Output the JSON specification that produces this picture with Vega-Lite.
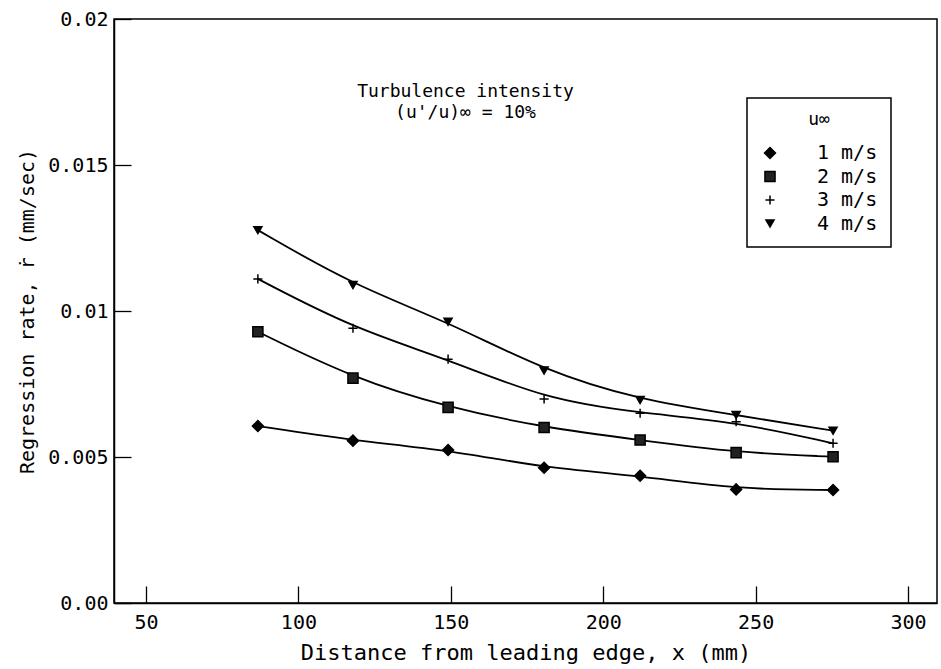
{
  "$schema": "https://vega.github.io/schema/vega-lite/v6.json",
  "width": 823,
  "height": 584,
  "autosize": "none",
  "padding": {"left": 114, "top": 19, "right": 4, "bottom": 66},
  "background": "white",
  "title": {
    "text": ["Turbulence intensity", "(u'/u)∞ = 10%"],
    "anchor": "middle",
    "orient": "top",
    "offset": 0,
    "dx": -60,
    "dy": 113,
    "baseline": "top",
    "font": "DejaVu Sans Mono",
    "fontSize": 18,
    "fontWeight": "normal",
    "color": "black",
    "lineHeight": 21
  },
  "config": {
    "view": {"stroke": "black", "strokeWidth": 1.5},
    "font": "DejaVu Sans Mono",
    "axis": {
      "grid": false,
      "domainColor": "black",
      "domainWidth": 1.5,
      "tickColor": "black",
      "tickWidth": 1.3,
      "tickSize": -17,
      "labelColor": "black",
      "titleColor": "black",
      "labelFont": "DejaVu Sans Mono",
      "titleFont": "DejaVu Sans Mono",
      "labelFontSize": 20,
      "titleFontSize": 20,
      "titleFontWeight": "normal"
    },
    "legend": {
      "orient": "none",
      "legendX": 633,
      "legendY": 79,
      "strokeColor": "black",
      "strokeWidth": 1.5,
      "padding": 13,
      "titleFont": "DejaVu Sans Mono",
      "titleFontSize": 18,
      "titleFontWeight": "normal",
      "titleColor": "black",
      "titleAnchor": "middle",
      "titlePadding": 14,
      "labelFont": "DejaVu Sans Mono",
      "labelFontSize": 20,
      "labelColor": "black",
      "labelOffset": 37,
      "rowPadding": 3.5,
      "symbolSize": 100,
      "symbolStrokeWidth": 1.5
    }
  },
  "data": {
    "values": [
      {"x": 86.7, "rate": 0.00606, "speed": "1 m/s"},
      {"x": 117.9, "rate": 0.00556, "speed": "1 m/s"},
      {"x": 149.1, "rate": 0.00524, "speed": "1 m/s"},
      {"x": 180.6, "rate": 0.00463, "speed": "1 m/s"},
      {"x": 212.1, "rate": 0.00436, "speed": "1 m/s"},
      {"x": 243.6, "rate": 0.00389, "speed": "1 m/s"},
      {"x": 275.4, "rate": 0.00387, "speed": "1 m/s"},
      {"x": 86.7, "rate": 0.00929, "speed": "2 m/s"},
      {"x": 117.9, "rate": 0.0077, "speed": "2 m/s"},
      {"x": 149.1, "rate": 0.0067, "speed": "2 m/s"},
      {"x": 180.6, "rate": 0.00601, "speed": "2 m/s"},
      {"x": 212.1, "rate": 0.00558, "speed": "2 m/s"},
      {"x": 243.6, "rate": 0.00515, "speed": "2 m/s"},
      {"x": 275.4, "rate": 0.00501, "speed": "2 m/s"},
      {"x": 86.7, "rate": 0.0111, "speed": "3 m/s"},
      {"x": 117.9, "rate": 0.00941, "speed": "3 m/s"},
      {"x": 149.1, "rate": 0.00835, "speed": "3 m/s"},
      {"x": 180.6, "rate": 0.00699, "speed": "3 m/s"},
      {"x": 212.1, "rate": 0.0065, "speed": "3 m/s"},
      {"x": 243.6, "rate": 0.00621, "speed": "3 m/s"},
      {"x": 275.4, "rate": 0.00547, "speed": "3 m/s"},
      {"x": 86.7, "rate": 0.01277, "speed": "4 m/s"},
      {"x": 117.9, "rate": 0.01089, "speed": "4 m/s"},
      {"x": 149.1, "rate": 0.00963, "speed": "4 m/s"},
      {"x": 180.6, "rate": 0.00796, "speed": "4 m/s"},
      {"x": 212.1, "rate": 0.00695, "speed": "4 m/s"},
      {"x": 243.6, "rate": 0.00644, "speed": "4 m/s"},
      {"x": 275.4, "rate": 0.0059, "speed": "4 m/s"}
    ]
  },
  "encoding": {
    "x": {
      "field": "x",
      "type": "quantitative",
      "scale": {"domain": [39.5, 309.5], "nice": false, "zero": false},
      "axis": {
        "values": [50, 100, 150, 200, 250, 300],
        "labelPadding": 26,
        "title": "Distance from leading edge, x (mm)",
        "titleFontSize": 22,
        "titlePadding": 10
      }
    },
    "y": {
      "field": "rate",
      "type": "quantitative",
      "scale": {"domain": [0, 0.02], "nice": false},
      "axis": {
        "values": [0, 0.005, 0.01, 0.015, 0.02],
        "labelExpr": "datum.value === 0 ? '0.00' : format(datum.value, '.3~f')",
        "labelPadding": 23,
        "title": "Regression rate, ṙ  (mm/sec)",
        "titlePadding": 10
      }
    }
  },
  "layer": [
    {
      "mark": {"type": "line", "interpolate": "basis", "color": "black", "strokeWidth": 1.8},
      "encoding": {"detail": {"field": "speed"}}
    },
    {
      "mark": {"type": "point", "strokeWidth": 1.5, "opacity": 1},
      "encoding": {
        "shape": {
          "field": "speed",
          "type": "nominal",
          "title": "u∞",
          "scale": {"range": ["diamond", "square", "M-1,0L1,0M0,-1L0,1", "triangle-down"]}
        },
        "size": {
          "field": "speed",
          "type": "nominal",
          "title": "u∞",
          "scale": {"range": [120, 65, 140, 100]}
        },
        "fill": {
          "field": "speed",
          "type": "nominal",
          "title": "u∞",
          "scale": {"range": ["black", "#222222", "transparent", "black"]}
        },
        "stroke": {
          "field": "speed",
          "type": "nominal",
          "title": "u∞",
          "scale": {"range": ["black", "black", "black", "black"]}
        }
      }
    }
  ]
}
